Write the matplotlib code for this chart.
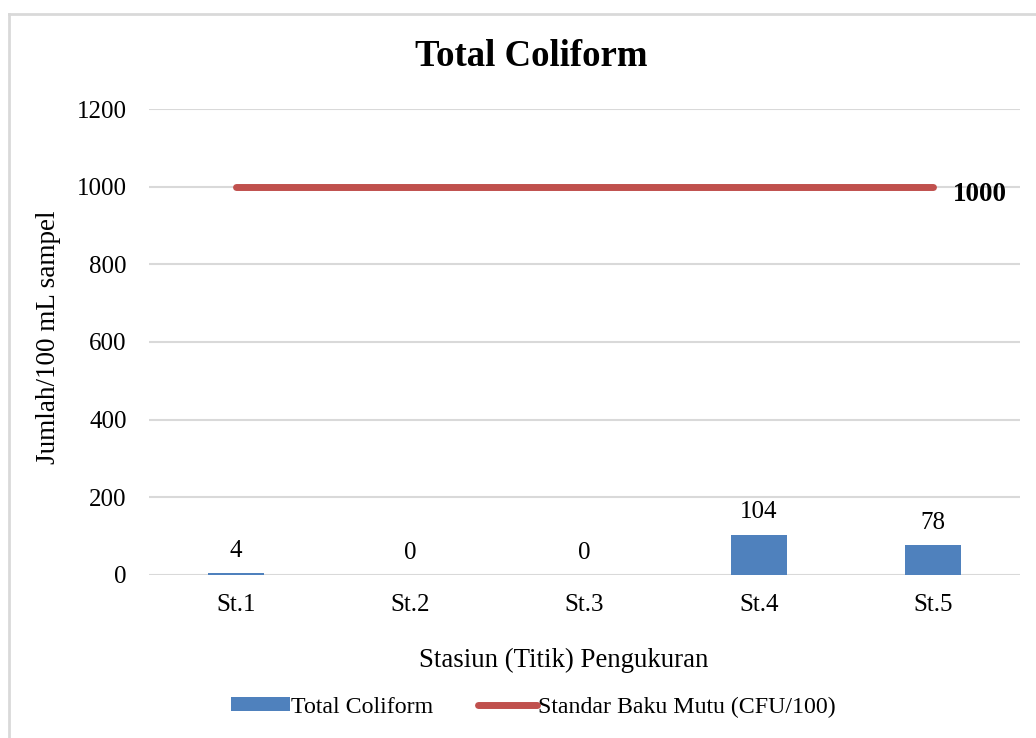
import matplotlib.pyplot as plt
from matplotlib.lines import Line2D

plt.rcParams['font.family'] = ['Liberation Serif', 'DejaVu Serif']

stasiun = ['St.1', 'St.2', 'St.3', 'St.4', 'St.5']
total_coliform = [4, 0, 0, 104, 78]
baku_mutu = [1000, 1000, 1000, 1000, 1000]

fig = plt.figure(figsize=(10.36, 7.38), dpi=100)
ax = fig.add_axes([0.1438, 0.2209, 0.8408, 0.6314])

x = range(len(stasiun))
bars = ax.bar(x, total_coliform, width=0.32, color='#4F81BD', label='Total Coliform', zorder=3)
garis, = ax.plot(x, baku_mutu, color='#C0504D', linewidth=5, solid_capstyle='round',
                 label='Standar Baku Mutu (CFU/100)', zorder=4)

for i, v in enumerate(total_coliform):
    ax.annotate(str(v), (i, v), xytext=(0, 8), textcoords='offset points',
                ha='center', va='bottom', fontsize=18)

ax.annotate(str(baku_mutu[-1]), (len(stasiun) - 1, baku_mutu[-1]), xytext=(14, -6),
            textcoords='offset points', ha='left', va='center', fontsize=19.5,
            fontweight='bold', annotation_clip=False)

ax.set_xlim(-0.5, len(stasiun) - 0.5)
ax.set_ylim(0, 1200)
ax.set_yticks(range(0, 1201, 200))
ax.set_xticks(list(x))
ax.set_xticklabels(stasiun)
ax.tick_params(axis='both', length=0, labelsize=18)
ax.tick_params(axis='y', pad=16)
ax.tick_params(axis='x', pad=14)
ax.grid(axis='y', color='#D9D9D9', linewidth=1.5, zorder=0)
ax.set_axisbelow(True)
for s in ax.spines.values():
    s.set_visible(False)

fig.text(0.544, 0.105, 'Stasiun (Titik) Pengukuran', ha='center', va='center', fontsize=19.4)
fig.text(0.047, 0.543, 'Jumlah/100 mL sampel', ha='center', va='center', rotation=90, fontsize=19.5)
fig.text(0.5125, 0.924, 'Total Coliform', ha='center', va='center', fontsize=26.5, fontweight='bold')

fig.legend([bars, garis], ['Total Coliform', 'Standar Baku Mutu (CFU/100)'],
           loc='center', bbox_to_anchor=(0.515, 0.042), ncol=2, frameon=False,
           fontsize=17.2, handlelength=2.45, handleheight=0.5, handletextpad=0.05,
           columnspacing=1.9)

# outer chart border (left and top visible)
fig.add_artist(Line2D([0.0087, 0.0087], [0, 0.981], color='#D9D9D9', linewidth=2,
                      transform=fig.transFigure))
fig.add_artist(Line2D([0.0087, 1], [0.981, 0.981], color='#D9D9D9', linewidth=2,
                      transform=fig.transFigure))

fig.savefig('out.png', dpi=100)
